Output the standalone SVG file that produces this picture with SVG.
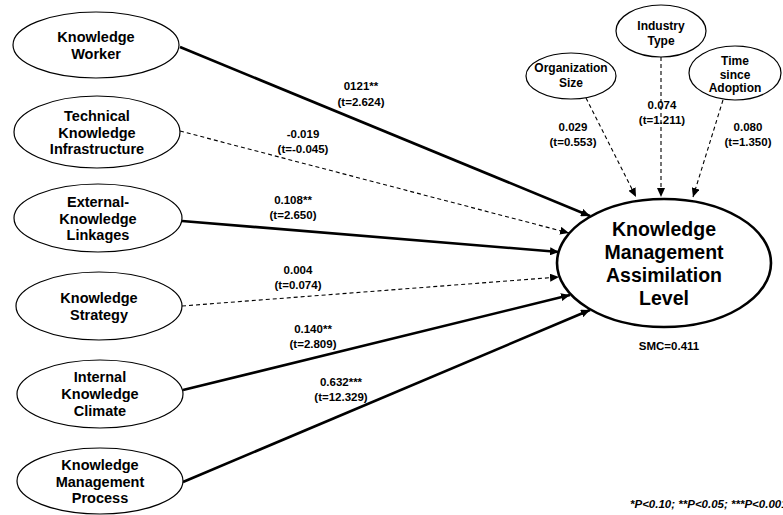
<svg xmlns="http://www.w3.org/2000/svg" width="783" height="515" viewBox="0 0 783 515">
  <defs>
    <marker id="arrow" markerUnits="userSpaceOnUse" markerWidth="10" markerHeight="8" refX="9" refY="4" orient="auto">
      <path d="M0,0 L9,4 L0,8 Z" fill="#000"/>
    </marker>
  </defs>
  <style>
    text { font-family: "Liberation Sans", Arial, sans-serif; font-weight: bold; fill: #000; text-anchor: middle; }
    .node ellipse { fill: #fff; stroke: #000; stroke-width: 1.2; }
    .node text { font-size: 14.5px; }
    .ctrl text { font-size: 12px; }
    .main ellipse { stroke-width: 2.6; }
    .main text { font-size: 19.5px; }
    .solid { stroke: #000; stroke-width: 2.6; fill: none; marker-end: url(#arrow); }
    .dash { stroke: #000; stroke-width: 1.1; fill: none; stroke-dasharray: 4 3; marker-end: url(#arrow); }
    .lbl { font-size: 11.5px; }
    .note { font-size: 11.5px; }
    .foot { font-size: 11.5px; font-style: italic; text-anchor: start; }
  </style>

  <!-- connectors -->
  <g id="connectors">
    <line class="solid" x1="180" y1="47" x2="590" y2="216"/>
    <line class="dash" x1="180" y1="131" x2="569" y2="233"/>
    <line class="solid" x1="182" y1="221" x2="559" y2="252"/>
    <line class="dash" x1="182" y1="306" x2="559" y2="277"/>
    <line class="solid" x1="183" y1="390" x2="570" y2="295"/>
    <line class="solid" x1="183" y1="482" x2="590" y2="310"/>
    <line class="dash" x1="586" y1="98" x2="636" y2="197"/>
    <line class="dash" x1="661" y1="57" x2="661" y2="197"/>
    <line class="dash" x1="723" y1="100" x2="693" y2="197"/>
  </g>

  <!-- path coefficients -->
  <g id="coefficients" class="lbl">
    <text x="361" y="90">0121**</text>
    <text x="361" y="106">(t=2.624)</text>
    <text x="303" y="138">-0.019</text>
    <text x="303" y="153">(t=-0.045)</text>
    <text x="293" y="204">0.108**</text>
    <text x="293" y="219">(t=2.650)</text>
    <text x="298" y="274">0.004</text>
    <text x="298" y="289">(t=0.074)</text>
    <text x="313" y="333">0.140**</text>
    <text x="313" y="348">(t=2.809)</text>
    <text x="341" y="386">0.632***</text>
    <text x="341" y="401">(t=12.329)</text>
    <text x="573" y="131">0.029</text>
    <text x="573" y="146">(t=0.553)</text>
    <text x="662" y="109">0.074</text>
    <text x="662" y="124">(t=1.211)</text>
    <text x="748" y="131">0.080</text>
    <text x="748" y="146">(t=1.350)</text>
  </g>

  <!-- predictors -->
  <g id="knowledge-worker" class="node">
    <ellipse cx="96" cy="45" rx="83" ry="33"/>
    <text x="96" y="42">Knowledge</text>
    <text x="96" y="59">Worker</text>
  </g>
  <g id="technical-infrastructure" class="node">
    <ellipse cx="97" cy="132" rx="83" ry="36"/>
    <text x="97" y="121">Technical</text>
    <text x="97" y="137.5">Knowledge</text>
    <text x="97" y="154">Infrastructure</text>
  </g>
  <g id="external-linkages" class="node">
    <ellipse cx="98" cy="218" rx="84" ry="34"/>
    <text x="98" y="207">External-</text>
    <text x="98" y="223.5">Knowledge</text>
    <text x="98" y="240">Linkages</text>
  </g>
  <g id="knowledge-strategy" class="node">
    <ellipse cx="99" cy="306" rx="83" ry="34"/>
    <text x="99" y="303">Knowledge</text>
    <text x="99" y="320">Strategy</text>
  </g>
  <g id="internal-climate" class="node">
    <ellipse cx="100" cy="394" rx="83" ry="34"/>
    <text x="100" y="382">Internal</text>
    <text x="100" y="399">Knowledge</text>
    <text x="100" y="415.5">Climate</text>
  </g>
  <g id="km-process" class="node">
    <ellipse cx="100" cy="481" rx="83" ry="33"/>
    <text x="100" y="470">Knowledge</text>
    <text x="100" y="486.5">Management</text>
    <text x="100" y="503">Process</text>
  </g>

  <!-- control variables -->
  <g id="organization-size" class="node ctrl">
    <ellipse cx="571" cy="76" rx="45" ry="23"/>
    <text x="571" y="72">Organization</text>
    <text x="571" y="87">Size</text>
  </g>
  <g id="industry-type" class="node ctrl">
    <ellipse cx="661" cy="31" rx="45" ry="26"/>
    <text x="661" y="30">Industry</text>
    <text x="661" y="45">Type</text>
  </g>
  <g id="time-since-adoption" class="node ctrl">
    <ellipse cx="735" cy="73" rx="46" ry="27"/>
    <text x="735" y="65">Time</text>
    <text x="735" y="78.5">since</text>
    <text x="735" y="92">Adoption</text>
  </g>

  <!-- outcome -->
  <g id="km-assimilation" class="node main">
    <ellipse cx="664" cy="263" rx="107" ry="64"/>
    <text x="664" y="236">Knowledge</text>
    <text x="664" y="259">Management</text>
    <text x="664" y="282">Assimilation</text>
    <text x="664" y="305">Level</text>
  </g>

  <text class="note" x="669" y="350">SMC=0.411</text>
  <text class="foot" x="630" y="508">*P&lt;0.10; **P&lt;0.05; ***P&lt;0.001</text>
</svg>
